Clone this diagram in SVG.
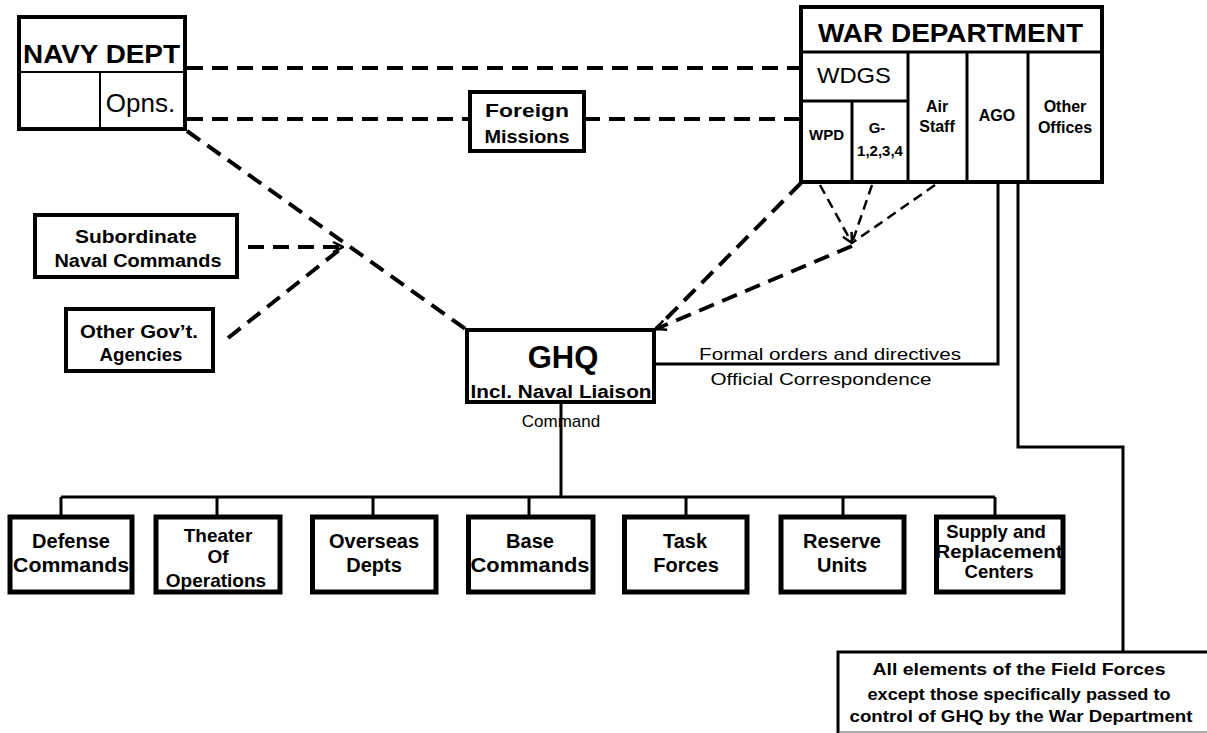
<svg xmlns="http://www.w3.org/2000/svg" width="1207" height="733" viewBox="0 0 1207 733">
<defs>
<style>
.box{fill:none;stroke:#000;stroke-width:4}
.bx{fill:none;stroke:#000;stroke-width:5}
.in{fill:none;stroke:#000;stroke-width:3}
.thin{fill:none;stroke:#000;stroke-width:2}
.t{font-family:"Liberation Sans",Arial,sans-serif;text-anchor:middle;fill:#000}
.b{font-weight:bold}
.solid{fill:none;stroke:#000;stroke-width:3}
.dash{fill:none;stroke:#000;stroke-width:4;stroke-dasharray:16 9}
.dash2{fill:none;stroke:#000;stroke-width:2.5;stroke-dasharray:10 6}
</style>
<marker id="arr" viewBox="0 0 12 12" refX="11" refY="6" markerWidth="12" markerHeight="12" markerUnits="userSpaceOnUse" orient="auto"><path d="M1,1 L11,6 L1,11" fill="none" stroke="#000" stroke-width="2.5"/></marker>
</defs>
<rect width="1207" height="733" fill="#fff"/>

<g id="connectors">
  <path class="dash" d="M187,68 H801"/>
  <path class="dash" d="M187,119 H470"/>
  <path class="dash" d="M584,119 H801"/>
  <path class="dash" d="M187,131 L467,330"/>
  <path class="dash" d="M248,247 L343,247" marker-end="url(#arr)"/>
  <path class="dash" d="M228,338 L343,247"/>
  <path class="dash" d="M801,183 L656,329"/>
  <path class="dash2" d="M820,185 L852,243" marker-end="url(#arr)"/>
  <path class="dash2" d="M872,185 L852,243"/>
  <path class="dash2" d="M935,185 L852,243"/>
  <path class="dash" d="M852,246 L656,329" marker-end="url(#arr)"/>
  <path class="solid" d="M654,364 H998 V182"/>
  <path class="solid" d="M1018,182 V447 H1123 V652"/>
  <path class="solid" d="M561,402 V497"/>
  <path class="solid" d="M61,497 H995"/>
  <path class="solid" d="M61,497 V515 M217,497 V515 M373,497 V515 M529,497 V515 M686,497 V515 M843,497 V515 M995,497 V515"/>
  <text class="t" x="830" y="360" font-size="16.5" textLength="262" lengthAdjust="spacingAndGlyphs">Formal orders and directives</text>
  <text class="t" x="821" y="385" font-size="16.5" textLength="221" lengthAdjust="spacingAndGlyphs">Official Correspondence</text>
  <text class="t" x="561" y="427" font-size="17">Command</text>
</g>

<g id="navy-dept">
  <rect class="box" x="19" y="17" width="166" height="112"/>
  <path class="thin" d="M19,72 H185 M100,72 V129"/>
  <text class="t b" x="101.5" y="63" font-size="25" textLength="157" lengthAdjust="spacingAndGlyphs">NAVY DEPT</text>
  <text class="t" x="140.5" y="112" font-size="26">Opns.</text>
</g>

<g id="war-dept">
  <rect class="box" x="801" y="7" width="301" height="175"/>
  <path class="in" d="M801,52 H1102 M801,101 H908 M852,101 V182 M908,52 V182 M967,52 V182 M1028,52 V182"/>
  <text class="t b" x="950.5" y="42" font-size="26" textLength="265" lengthAdjust="spacingAndGlyphs">WAR DEPARTMENT</text>
  <text class="t" x="854" y="83" font-size="22" textLength="74" lengthAdjust="spacingAndGlyphs">WDGS</text>
  <text class="t b" x="826.5" y="140" font-size="15">WPD</text>
  <text class="t b" x="877" y="133" font-size="15">G-</text>
  <text class="t b" x="880" y="156" font-size="15">1,2,3,4</text>
  <text class="t b" x="937" y="112" font-size="16">Air</text>
  <text class="t b" x="937" y="132" font-size="16">Staff</text>
  <text class="t b" x="997" y="121" font-size="16">AGO</text>
  <text class="t b" x="1065" y="112" font-size="16">Other</text>
  <text class="t b" x="1065" y="133" font-size="16">Offices</text>
</g>

<g id="foreign-missions">
  <rect class="box" x="470" y="92" width="114" height="59"/>
  <text class="t b" x="527" y="117" font-size="18" textLength="84" lengthAdjust="spacingAndGlyphs">Foreign</text>
  <text class="t b" x="527" y="143" font-size="18" textLength="85" lengthAdjust="spacingAndGlyphs">Missions</text>
</g>

<g id="subordinate-naval">
  <rect class="box" x="35" y="215" width="202" height="62"/>
  <text class="t b" x="136" y="243" font-size="18" textLength="122" lengthAdjust="spacingAndGlyphs">Subordinate</text>
  <text class="t b" x="138" y="267" font-size="18" textLength="167" lengthAdjust="spacingAndGlyphs">Naval Commands</text>
</g>

<g id="other-gov">
  <rect class="box" x="66" y="309" width="147" height="62"/>
  <text class="t b" x="139" y="338" font-size="18" textLength="118" lengthAdjust="spacingAndGlyphs">Other Gov’t.</text>
  <text class="t b" x="141" y="361" font-size="18" textLength="83" lengthAdjust="spacingAndGlyphs">Agencies</text>
</g>

<g id="ghq">
  <rect class="box" x="467" y="330" width="187" height="72"/>
  <text class="t b" x="563" y="368" font-size="31">GHQ</text>
  <text class="t b" x="561" y="398" font-size="18" textLength="181" lengthAdjust="spacingAndGlyphs">Incl. Naval Liaison</text>
</g>

<g id="defense-commands">
  <text class="t b" x="71" y="548" font-size="20">Defense</text>
  <text class="t b" x="71" y="572" font-size="20" textLength="116" lengthAdjust="spacingAndGlyphs">Commands</text>
  <rect class="bx" x="10" y="517" width="122" height="75"/>
</g>
<g id="theater">
  <text class="t b" x="218" y="542" font-size="19">Theater</text>
  <text class="t b" x="218" y="563" font-size="19">Of</text>
  <text class="t b" x="216" y="587" font-size="19">Operations</text>
  <rect class="bx" x="156" y="517" width="124" height="75"/>
</g>
<g id="overseas">
  <text class="t b" x="374" y="548" font-size="20">Overseas</text>
  <text class="t b" x="374" y="572" font-size="20">Depts</text>
  <rect class="bx" x="312.5" y="517" width="123.5" height="75"/>
</g>
<g id="base-commands">
  <text class="t b" x="530" y="548" font-size="20">Base</text>
  <text class="t b" x="530" y="572" font-size="20" textLength="119" lengthAdjust="spacingAndGlyphs">Commands</text>
  <rect class="bx" x="468.5" y="517" width="124.5" height="75"/>
</g>
<g id="task-forces">
  <text class="t b" x="685" y="548" font-size="20">Task</text>
  <text class="t b" x="686" y="572" font-size="20">Forces</text>
  <rect class="bx" x="624.5" y="517" width="122.5" height="75"/>
</g>
<g id="reserve-units">
  <text class="t b" x="842" y="548" font-size="20">Reserve</text>
  <text class="t b" x="842" y="572" font-size="20">Units</text>
  <rect class="bx" x="781" y="517" width="123" height="75"/>
</g>
<g id="supply">
  <text class="t b" x="996" y="538" font-size="18.5">Supply and</text>
  <text class="t b" x="999" y="558" font-size="18.5" textLength="127" lengthAdjust="spacingAndGlyphs">Replacement</text>
  <text class="t b" x="999" y="578" font-size="18.5">Centers</text>
  <rect class="bx" x="936.5" y="517" width="126.5" height="75"/>
</g>

<g id="field-forces">
  <path class="solid" d="M838,733 V652 H1207"/>
  <path d="M838,732 H1207" stroke="#555" stroke-width="1"/>
  <text class="t b" x="1019" y="675" font-size="17" textLength="293" lengthAdjust="spacingAndGlyphs">All elements of the Field Forces</text>
  <text class="t b" x="1019" y="700" font-size="17" textLength="303" lengthAdjust="spacingAndGlyphs">except those specifically passed to</text>
  <text class="t b" x="1021" y="722" font-size="17" textLength="343" lengthAdjust="spacingAndGlyphs">control of GHQ by the War Department</text>
</g>
</svg>
